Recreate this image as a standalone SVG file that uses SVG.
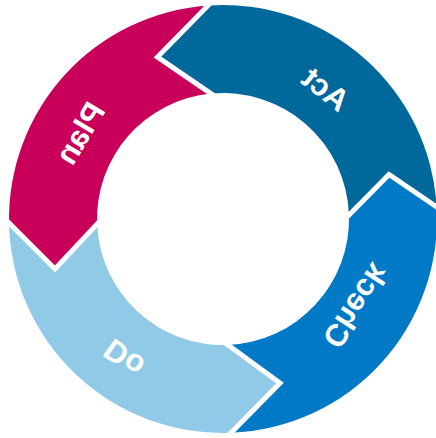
<svg xmlns="http://www.w3.org/2000/svg" width="436" height="438" viewBox="0 0 436 438">
<style>
  .lbl { font-family: "Liberation Sans", Arial, sans-serif; font-weight: bold; font-size: 31px; fill: #ffffff; text-anchor: middle; }
  .sep { fill: none; stroke: #ffffff; stroke-width: 5; stroke-linejoin: miter; }
</style>
<rect width="436" height="438" fill="#ffffff"/>
<g id="act">
  <path d="M436.66,207 A214,214 0 0 0 208,5.53 L157.5,57 L211,93.57 A126,126 0 0 1 348.94,215 L389,174.5 Z" fill="#00689B"/>
  <text class="lbl" transform="translate(326,89) rotate(38.4) scale(-1,1)" dy="0.35em">Act</text>
</g>
<g id="plan">
  <path d="M208,5.53 A214,214 0 0 0 9.04,223 L55,269 L97.1,224 A126,126 0 0 1 211,93.57 L157.5,57 Z" fill="#C8005A"/>
  <text class="lbl" transform="translate(80,133) rotate(-59) scale(-1,1)" dy="0.35em">Plan</text>
</g>
<g id="do">
  <path d="M9.04,223 A214,214 0 0 0 231,432.85 L280,383 L228,344.9 A126,126 0 0 1 97.1,224 L55,269 Z" fill="#91CAE6"/>
  <text class="lbl" transform="translate(124,358) rotate(215.5) scale(-1,1)" dy="0.35em">Do</text>
</g>
<g id="check">
  <path d="M231,432.85 A214,214 0 0 0 436.66,207 L389,174.5 L348.94,215 A126,126 0 0 1 228,344.9 L280,383 Z" fill="#007AC6"/>
  <text class="lbl" transform="translate(356,306) rotate(123.2) scale(-1,1)" dy="0.35em">Check</text>
</g>
<g id="connectors">
  <polyline class="sep" points="213.6,-0.18 157.5,57 217.6,98.1"/>
  <polyline class="sep" points="3.39,217.34 55,269 102.57,218.16"/>
  <polyline class="sep" points="225.39,438.56 280,383 221.55,340.17"/>
  <polyline class="sep" points="443.27,211.51 389,174.5 343.3,220.69"/>
</g>
</svg>
